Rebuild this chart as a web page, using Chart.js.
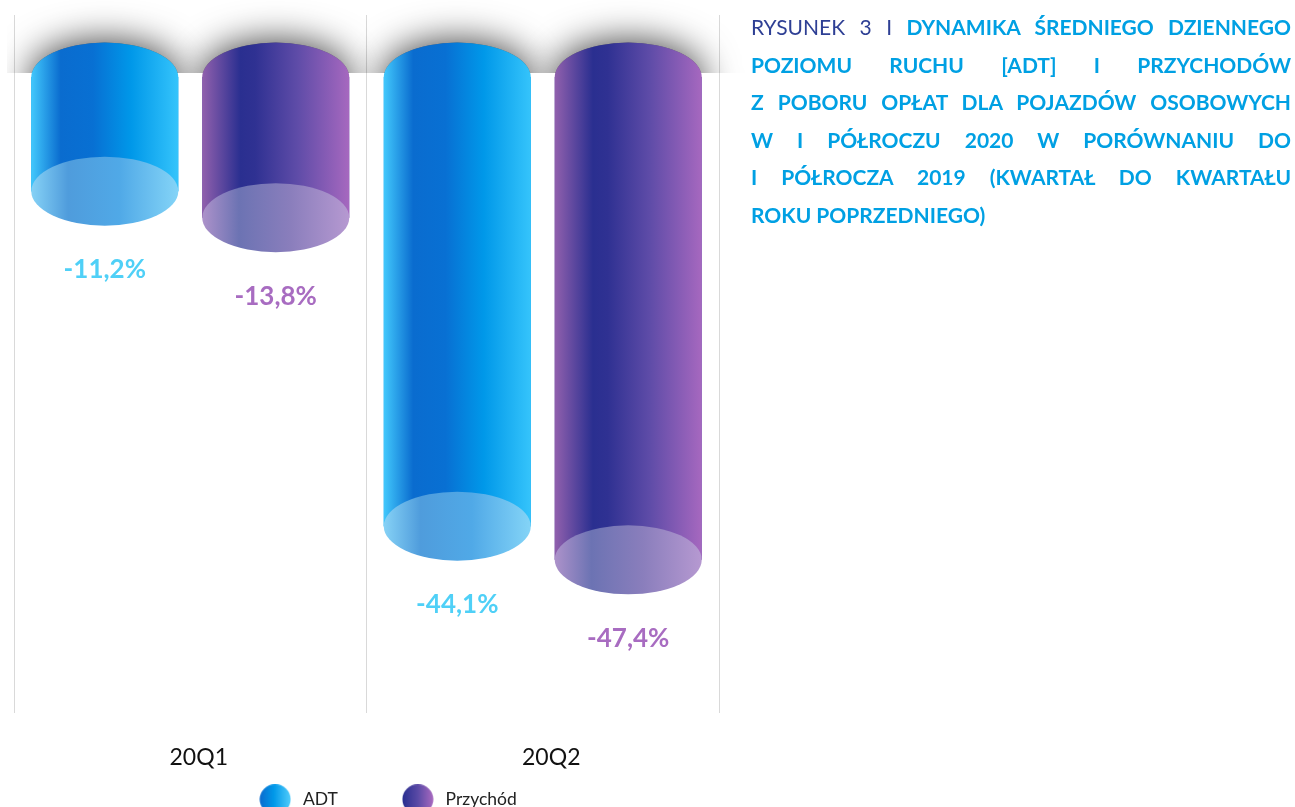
<!DOCTYPE html>
<html><head><meta charset="utf-8">
<script src="https://cdn.jsdelivr.net/npm/chart.js@4"></script>
<style>
html,body{margin:0;padding:0;background:#fff;overflow:hidden}
#wrap{position:absolute;left:0;top:0;width:780px;height:807px}
#title{position:absolute;left:751px;top:8px;width:540px;font:700 21px/37.6px Lato,sans-serif;color:#00a0e3}
#title div{text-align:justify;text-align-last:justify;white-space:nowrap}
#title div:last-child{text-align-last:left}
#title span{font-weight:400;color:#2e3f94}
</style></head><body>
<div id="wrap"><canvas id="c" width="780" height="807"></canvas></div>
<div id="title">
<div><span>RYSUNEK 3 I</span> DYNAMIKA ŚREDNIEGO DZIENNEGO</div>
<div>POZIOMU RUCHU [ADT] I PRZYCHODÓW</div>
<div>Z POBORU OPŁAT DLA POJAZDÓW OSOBOWYCH</div>
<div>W I PÓŁROCZU 2020 W PORÓWNANIU DO</div>
<div>I PÓŁROCZA 2019 (KWARTAŁ DO KWARTAŁU</div>
<div>ROKU POPRZEDNIEGO)</div>
</div>
<script>
const categories = ['20Q1','20Q2'];
const seriesNames = ['ADT','Przychód'];
const adtValues = [-11.2,-44.1];
const revenueValues = [-13.8,-47.4];
const yMin = -62.4, yMax = 6.1;

const sideStops = [
 [[0,'#42c8fc'],[0.2,'#0a6ccf'],[0.42,'#0870d3'],[0.68,'#0098e9'],[1,'#35c4fb']],
 [[0,'#9160ad'],[0.26,'#2a2f90'],[0.36,'#2f3192'],[0.65,'#5f4ca8'],[1,'#a668bf']]
];
const capStops = [
 [[0,'#86d2f6'],[0.25,'#4f9cdc'],[0.6,'#50a9e7'],[1,'#84d4f7']],
 [[0,'#ad92ca'],[0.25,'#6c73b3'],[0.6,'#8a7ebc'],[1,'#b699d1']]
];
const baseColors = ['#0098e9','#5a4aa6'];
const labelColors = ['#4fd0f7','#a86cc1'];
const RY = 34.5;

function grad(ctx,x0,x1,stops){
  const g=ctx.createLinearGradient(x0,0,x1,0);
  stops.forEach(s=>g.addColorStop(s[0],s[1]));
  return g;
}
function legendMarker(stops){
  const cv=document.createElement('canvas');cv.width=32;cv.height=30;
  const x=cv.getContext('2d');
  x.fillStyle=grad(x,1,31,stops);
  x.beginPath();x.ellipse(16,15,15.5,15,0,0,Math.PI*2);x.fill();
  return cv;
}
const markers=[legendMarker([[0,'#0a6ccf'],[0.45,'#0098e9'],[1,'#4fcbfb']]),legendMarker([[0,'#2a2f90'],[0.5,'#5a4aa6'],[1,'#a668bf']])];

const cylinderPlugin={
  id:'cylinders',
  afterLayout(chart){ chart.scales.x.bottom=chart.height; },
  beforeDatasetsDraw(chart){
    const ctx=chart.ctx,y0=chart.scales.y.getPixelForValue(0);
    ctx.save();
    ctx.beginPath();ctx.rect(7,0,773,y0-4);ctx.clip();
    chart.data.datasets.forEach((d,i)=>chart.getDatasetMeta(i).data.forEach(el=>{
      const w=el.width/2;
      ctx.save();
      ctx.shadowColor='rgba(0,0,0,0.75)';ctx.shadowBlur=36;ctx.shadowOffsetY=-2;
      ctx.fillStyle='#666';
      ctx.beginPath();ctx.ellipse(el.x,y0,w,RY,0,Math.PI,0);ctx.lineTo(el.x+w,y0+50);ctx.lineTo(el.x-w,y0+50);ctx.closePath();ctx.fill();
      ctx.restore();
    }));
    ctx.restore();
  },
  afterDatasetsDraw(chart){
    const ctx=chart.ctx,y0=chart.scales.y.getPixelForValue(0);
    chart.data.datasets.forEach((d,i)=>chart.getDatasetMeta(i).data.forEach((el,j)=>{
      const w=el.width/2,l=el.x-w,r=el.x+w;
      ctx.fillStyle=grad(ctx,l,r,sideStops[i]);
      ctx.beginPath();ctx.ellipse(el.x,y0,w,RY,0,Math.PI,0);ctx.lineTo(r,el.y);ctx.lineTo(l,el.y);ctx.closePath();ctx.fill();
      ctx.fillStyle=grad(ctx,l,r,capStops[i]);
      ctx.beginPath();ctx.ellipse(el.x,el.y,w,RY,0,0,Math.PI*2);ctx.fill();
      ctx.fillStyle=labelColors[i];
      ctx.font='700 26px Lato, sans-serif';
      ctx.textAlign='center';ctx.textBaseline='middle';
      ctx.fillText(d.data[j].toFixed(1).replace('.',',')+'%',el.x,el.y+RY+44);
    }));
  }
};

new Chart(document.getElementById('c'),{
  type:'bar',
  data:{labels:categories,datasets:[
    {label:seriesNames[0],data:adtValues,backgroundColor:baseColors[0],borderWidth:0},
    {label:seriesNames[1],data:revenueValues,backgroundColor:baseColors[1],borderWidth:0}
  ]},
  options:{
    responsive:false,animation:false,
    categoryPercentage:0.97,barPercentage:0.86,
    layout:{padding:{left:14,right:21,top:15,bottom:-11}},
    plugins:{
      tooltip:{enabled:false},
      legend:{position:'bottom',
        labels:{usePointStyle:true,pointStyleWidth:38,padding:61,color:'#222',font:{family:'Lato, sans-serif',size:17.5},
          generateLabels(chart){return chart.data.datasets.map((d,i)=>({text:d.label,pointStyle:markers[i],fillStyle:'transparent',strokeStyle:'transparent',lineWidth:0,datasetIndex:i,fontColor:'#222'}));}
        }}
    },
    scales:{
      x:{grid:{color:'#d9d9d9',lineWidth:1,drawTicks:false,offset:true},border:{display:false},
         ticks:{color:'#111',font:{family:'Lato, sans-serif',size:23},padding:31,labelOffset:8.5},
         afterFit(s){s.height=17;}},
      y:{position:'right',min:yMin,max:yMax,grid:{display:false},border:{display:false},ticks:{display:false},
         afterFit(s){s.width=40;}}
    }
  },
  plugins:[cylinderPlugin]
});
</script>
</body></html>
